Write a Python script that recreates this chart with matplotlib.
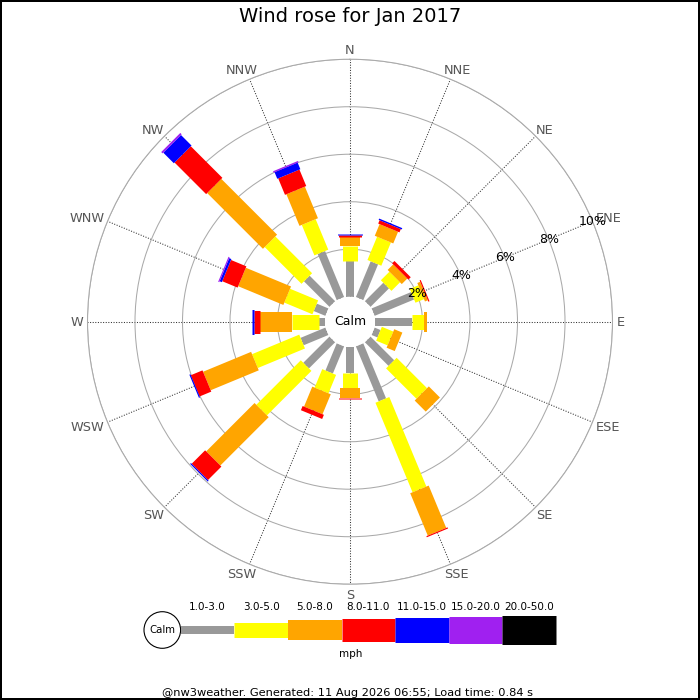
import matplotlib
matplotlib.use('Agg')
import numpy as np
import matplotlib.pyplot as plt
from matplotlib.patches import Circle

# ---------------- data ----------------
directions = ['N', 'NNE', 'NE', 'ENE', 'E', 'ESE', 'SE', 'SSE',
              'S', 'SSW', 'SW', 'WSW', 'W', 'WNW', 'NW', 'NNW']
speed_bins = ['1.0-3.0', '3.0-5.0', '5.0-8.0', '8.0-11.0',
              '11.0-15.0', '15.0-20.0', '20.0-50.0']
bin_colors = ['#999999', '#ffff00', '#ffa500', '#ff0000',
              '#0000ff', '#a020f0', '#000000']
bar_px = [8, 15, 20, 23, 25, 27, 29]

# frequency (%) per direction for each speed class
freq_1_3 = [1.50, 1.63, 1.10, 1.80, 1.55, 0.27, 1.41, 2.51,
            1.09, 1.24, 1.56, 1.13, 0.25, 0.53, 1.52, 2.10]
freq_3_5 = [0.65, 1.06, 0.51, 0.39, 0.53, 0.52, 1.81, 4.08,
            0.64, 0.84, 2.65, 2.15, 1.13, 1.28, 2.19, 1.39]
freq_5_8 = [0.38, 0.53, 0.33, 0.13, 0.10, 0.37, 0.66, 1.93,
            0.42, 0.91, 2.88, 2.19, 1.36, 2.06, 3.32, 1.44]
freq_8_11 = [0.06, 0.15, 0.14, 0.05, 0.00, 0.00, 0.00, 0.05,
             0.05, 0.19, 0.80, 0.53, 0.25, 0.70, 1.88, 0.75]
freq_11_15 = [0.05, 0.06, 0.00, 0.00, 0.00, 0.00, 0.00, 0.00,
              0.00, 0.00, 0.05, 0.05, 0.07, 0.10, 0.63, 0.30]
freq_15_20 = [0.00, 0.00, 0.00, 0.00, 0.00, 0.00, 0.00, 0.00,
              0.00, 0.00, 0.00, 0.00, 0.00, 0.05, 0.08, 0.06]
freq_20_50 = [0.00] * 16
series = [freq_1_3, freq_3_5, freq_5_8, freq_8_11,
          freq_11_15, freq_15_20, freq_20_50]

ring_values = [2, 4, 6, 8, 10]
ring_labels = ['2%', '4%', '6%', '8%', '10%']

title = 'Wind rose for Jan 2017'
footer = '@nw3weather. Generated: 11 Aug 2026 06:55; Load time: 0.84 s'
unit = 'mph'

# ---------------- figure ----------------
PX = 0.72  # points per pixel at dpi 100
fig = plt.figure(figsize=(7, 7), dpi=100)
fig.patch.set_facecolor('white')
fig.patch.set_edgecolor('black')
fig.patch.set_linewidth(1.5)

ax = fig.add_axes([0.125, 0.1654, 0.75, 0.75], projection='polar')
ax.set_theta_zero_location('N')
ax.set_theta_direction(-1)
ax.set_ylim(0, 10)
ax.set_rorigin(-1.0526)

ax.set_yticks(ring_values)
ax.set_yticklabels([])
ax.yaxis.grid(True, color='#aaaaaa', lw=0.75, ls='-')
ax.xaxis.grid(True, color='#333333', lw=0.75, ls=(0, (1, 1.5)))
ax.spines['polar'].set_color('#aaaaaa')
ax.spines['polar'].set_linewidth(0.75)
ax.spines['inner'].set_edgecolor('none')

angles = np.deg2rad(np.arange(len(directions)) * 22.5)
ax.set_xticks(angles)
ax.set_xticklabels([])
ax.tick_params(axis='both', length=0)

# direction labels, box edge placed just outside the outer ring
dir_texts = []
for th, d in zip(angles, directions):
    t = ax.annotate(d, xy=(th, 10), xytext=(0, 0), textcoords='offset pixels',
                    ha='center', va='center', fontsize=9.3, color='#555555',
                    annotation_clip=False)
    dir_texts.append(t)

for i, th in enumerate(angles):
    cum = 0.0
    for k, s in enumerate(series):
        v = s[i]
        if v > 0:
            ax.plot([th, th], [cum, cum + v], color=bin_colors[k],
                    lw=bar_px[k] * PX, solid_capstyle='butt', zorder=3)
            cum += v

for rv, rl in zip(ring_values, ring_labels):
    ax.text(np.deg2rad(67.5), rv, rl, ha='center', va='center',
            fontsize=9, color='black', zorder=10)

ax.text(0.5, 0.5, 'Calm', transform=ax.transAxes, ha='center',
        va='center', fontsize=9, zorder=10)

fig.text(0.5, 1 - 17 / 700, title, fontsize=14, ha='center', va='center')

# ---------------- legend / footer ----------------
lax = fig.add_axes([0, 0, 1, 1])
lax.set_xlim(0, 700)
lax.set_ylim(700, 0)
lax.axis('off')

ly = 630
lax.add_patch(Circle((162.3, ly), 18.3, fc='white', ec='black', lw=0.8))
lax.text(162.3, ly, 'Calm', fontsize=7.3, ha='center', va='center')
x0 = 180.7
seg = 53.6
for k, lab in enumerate(speed_bins):
    lax.plot([x0 + k * seg, x0 + (k + 1) * seg], [ly, ly],
             color=bin_colors[k], lw=bar_px[k] * PX, solid_capstyle='butt')
    lax.text(x0 + (k + 0.5) * seg, 607, lab, fontsize=7.5,
             ha='center', va='center')
lax.text(350.7, 654, unit, fontsize=7.5, ha='center', va='center')
lax.text(348, 693, footer, fontsize=8.2, ha='center', va='center')

# position direction labels by their measured size
fig.canvas.draw()
renderer = fig.canvas.get_renderer()
gap = 4.5
hh = 5.8
for t, th in zip(dir_texts, angles):
    bb = t.get_window_extent(renderer)
    hw = bb.width / 2
    s, c = np.sin(th), np.cos(th)
    t.xyann = (gap * s + hw * s, gap * c + hh * c - 1.2)

fig.savefig('out.png', dpi=100, facecolor='white', edgecolor='black')
